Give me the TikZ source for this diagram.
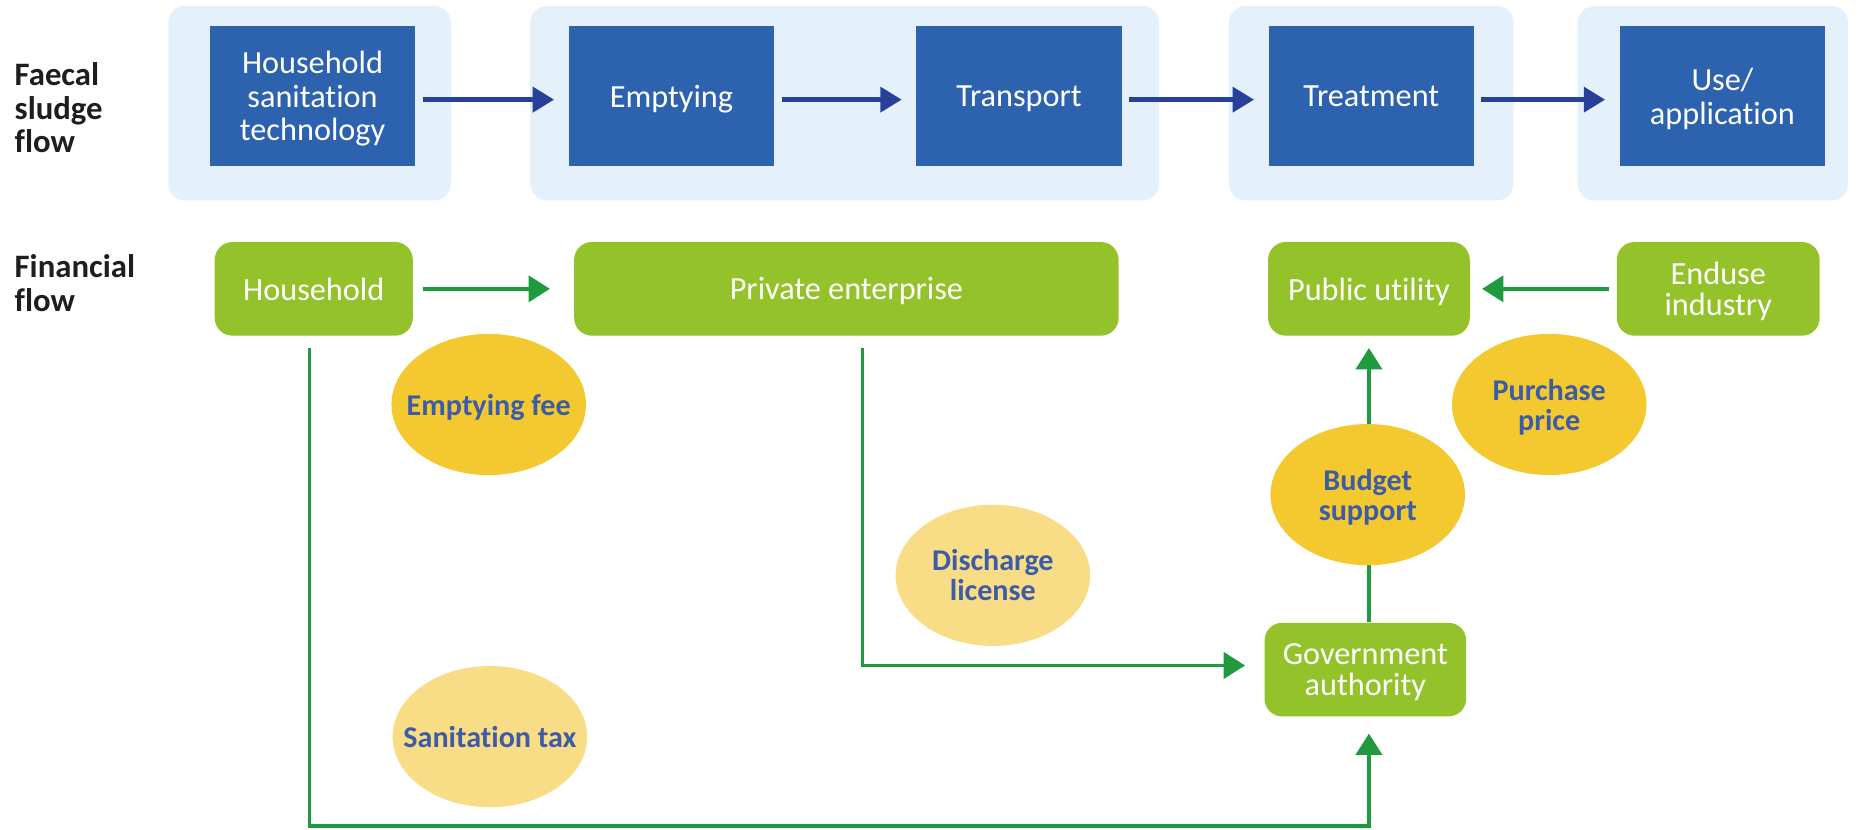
\documentclass[tikz,border=0pt]{standalone}
\usepackage{fontspec}
\setmainfont{Carlito}[Ligatures=NoCommon]
\usetikzlibrary{arrows.meta,shapes.geometric}
\definecolor{bgblue}{HTML}{E4F1FA}
\definecolor{boxblue}{HTML}{2D62AE}
\definecolor{navy}{HTML}{29409A}
\definecolor{boxgreen}{HTML}{93C22A}
\definecolor{lgreen}{HTML}{1F9A3F}
\definecolor{gold}{HTML}{F4C92F}
\definecolor{pale}{HTML}{F8DC86}
\definecolor{moneytext}{HTML}{3D5CA8}
\definecolor{labeltext}{HTML}{1E1E1E}
\tikzset{
  bgbox/.style={fill=bgblue, draw=none, rounded corners=7pt},
  bluebox/.style={rectangle, fill=boxblue, text=white, minimum width=86.5pt, minimum height=59pt,
    inner sep=0pt, text depth=0pt, align=center, font=\fontsize{13.6}{14.2}\selectfont},
  greenbox/.style={rectangle, rounded corners=7.5pt, fill=boxgreen, text=white, minimum height=39.5pt,
    inner sep=0pt, text depth=0pt, align=center, font=\fontsize{13.6}{12.8}\selectfont},
  money/.style={ellipse, minimum width=82pt, minimum height=59.5pt, inner xsep=-12pt, inner ysep=0pt,
    text depth=0pt, align=center, text=moneytext, font=\bfseries\fontsize{12.7}{12.6}\selectfont},
  rowlabel/.style={anchor=north west, inner sep=0pt, align=left, text=labeltext,
    font=\bfseries\fontsize{13.8}{14.3}\selectfont},
  navyarrow/.style={draw=navy, line width=1.8pt, -{Triangle[length=9pt,width=10.5pt]},
    shorten <=3pt, shorten >=6pt},
  greenarrow/.style={draw=lgreen, line width=1.5pt, -{Triangle[length=9pt,width=11pt]}},
}
\begin{document}
\begin{tikzpicture}[x=0.5pt,y=-0.5pt]
\useasboundingbox (0,0) rectangle (1568,699);
% background panels
\fill[bgbox] (142,5) rectangle (380,169);
\fill[bgbox] (447,5) rectangle (977,169);
\fill[bgbox] (1036,5) rectangle (1276,169);
\fill[bgbox] (1330,5) rectangle (1558,169);
% row labels
\node[rowlabel] (lab1) at (12,52) {Faecal\\sludge\\flow};
\node[rowlabel] (lab2) at (12,214) {Financial\\flow};
% faecal sludge flow boxes
\node[bluebox] (hst) at (263.5,81) {Household\\sanitation\\technology};
\node[bluebox] (emp) at (566,81) {Emptying};
\node[bluebox] (trn) at (859,81) {Transport};
\node[bluebox] (trt) at (1156,81) {Treatment};
\node[bluebox] (use) at (1452,81) {Use/\\application};
\draw[navyarrow] ([yshift=-1.5pt]hst.east) -- ([yshift=-1.5pt]emp.west);
\draw[navyarrow] ([yshift=-1.5pt]emp.east) -- ([yshift=-1.5pt]trn.west);
\draw[navyarrow] ([yshift=-1.5pt]trn.east) -- ([yshift=-1.5pt]trt.west);
\draw[navyarrow] ([yshift=-1.5pt]trt.east) -- ([yshift=-1.5pt]use.west);
% financial flow boxes
\node[greenbox, minimum width=83.5pt] (hh) at (264.5,243.5) {Household};
\node[greenbox, minimum width=229.5pt] (pe) at (713.5,243.5) {Private enterprise};
\node[greenbox, minimum width=85pt] (pu) at (1154,243.5) {Public utility};
\node[greenbox, minimum width=85.5pt] (ei) at (1448.5,243.5) {Enduse\\industry};
\node[greenbox, minimum width=85pt] (ga) at (1151,564.5) {Government\\authority};
\coordinate (rail) at (0,696.5);
\coordinate (hhdrop) at (261,0);
\coordinate (pedrop) at (727,0);
\draw[greenarrow, shorten <=4pt, shorten >=10pt] (hh.east) -- (pe.west);
\draw[greenarrow, shorten <=3pt, shorten >=5pt] (ei.west) -- (pu.east);
\draw[greenarrow, shorten <=5pt, shorten >=7pt] (hh.south -| hhdrop) -- (rail -| hhdrop) -| (ga.south -| pu.south);
\draw[greenarrow, shorten <=5pt, shorten >=8pt] (pe.south -| pedrop) |- ([yshift=1.75pt]ga.west);
\draw[greenarrow, shorten >=5pt] (ga.north -| pu.south) -- (pu.south);
% money ellipses
\node[money, fill=gold] (fee) at (412,341) {Emptying fee};
\node[money, fill=pale] (dis) at (837,485) {Discharge\\license};
\node[money, fill=pale] (tax) at (413,621) {Sanitation tax};
\node[money, fill=gold] (bud) at (1153,417) {Budget\\support};
\node[money, fill=gold] (pur) at (1306,341) {Purchase\\price};
\end{tikzpicture}
\end{document}
